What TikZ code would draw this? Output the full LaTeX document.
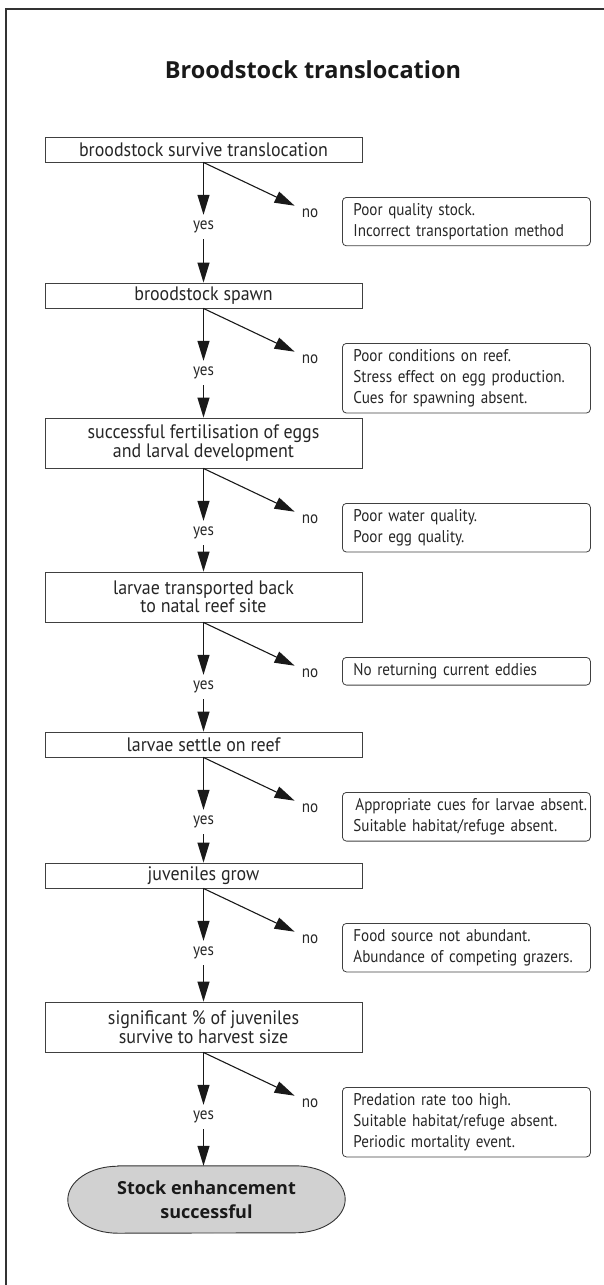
\documentclass[tikz,border=0pt]{standalone}
\usepackage{fontspec}
\setmainfont{PT Sans}
\newfontfamily\headfont{Open Sans}
\newfontfamily\boxfont[FakeStretch=0.92]{PT Sans}
\newfontfamily\notefont[FakeStretch=0.89]{PT Sans}
\usetikzlibrary{arrows.meta, backgrounds}

\begin{document}
\begin{tikzpicture}[x=1pt, y=-1pt,
    frame/.style={draw=black!80, line width=1.7pt},
    title/.style={font=\fontsize{23.5}{28}\headfont\bfseries, text=black!90},
    box/.style={draw=black!75, line width=0.9pt, minimum width=317pt, minimum height=25pt, inner sep=1pt, align=center, font=\fontsize{19.5}{18.5}\boxfont, text=black!85},
    why/.style={draw=black!75, line width=0.8pt, rounded corners=4pt, anchor=north west, text width=226pt, inner xsep=11pt, inner ysep=6pt, align=left, font=\fontsize{17}{21}\notefont, text=black!85},
    yes/.style={inner sep=0pt, minimum height=24pt, font=\fontsize{17}{18}\notefont, text=black!85},
    no/.style={inner sep=7pt, font=\fontsize{17}{18}\notefont, text=black!85},
    done/.style={minimum width=277pt, minimum height=67pt, align=center, font=\fontsize{18}{24}\headfont\bfseries, text=black!90},
    conn/.style={draw=black!90, line width=1.1pt, -{Triangle[length=20pt, width=12pt]}}
]
    \useasboundingbox (0,0) rectangle (604,1285);
    \draw[frame] (604,9) -- (6,9) -- (6,1285);

    \node[title] (ttl) at (313,70) {Broodstock translocation};

    % steps
    \node[box] (s1) at (203.5,149.5) {broodstock survive translocation};
    \node[box] (s2) at (203.5,295.5) {broodstock spawn};
    \node[box, minimum height=50pt] (s3) at (203.5,443) {successful fertilisation of eggs\\and larval development};
    \node[box, minimum height=50pt] (s4) at (203.5,597) {larvae transported back\\to natal reef site};
    \node[box] (s5) at (203.5,744.5) {larvae settle on reef};
    \node[box] (s6) at (203.5,875.5) {juveniles grow};
    \node[box, minimum height=50pt] (s7) at (203.5,1027) {significant \% of juveniles\\survive to harvest size};
    \node[done] (end) at (206.5,1199.5) {Stock enhancement\\successful};
    \begin{pgfonlayer}{background}
        \draw[draw=black!80, line width=0.9pt, fill=black!18]
            ([xshift=50pt]end.north west) -- ([xshift=-50pt]end.north east)
            arc[start angle=90, end angle=-90, x radius=50pt, y radius=33.5pt]
            -- ([xshift=50pt]end.south west)
            arc[start angle=270, end angle=90, x radius=50pt, y radius=33.5pt] -- cycle;
    \end{pgfonlayer}

    % yes / no labels
    \node[yes] (y1) at (203.5,227) {yes};
    \node[yes] (y2) at (203.5,373) {yes};
    \node[yes] (y3) at (203.5,533) {yes};
    \node[yes] (y4) at (203.5,687) {yes};
    \node[yes] (y5) at (203.5,822) {yes};
    \node[yes] (y6) at (203.5,953) {yes};
    \node[yes] (y7) at (203.5,1117) {yes};
    \node[no] (n1) at (310,213) {no};
    \node[no] (n2) at (310,359) {no};
    \node[no] (n3) at (310,519) {no};
    \node[no] (n4) at (310,673) {no};
    \node[no] (n5) at (310,808) {no};
    \node[no] (n6) at (310,939) {no};
    \node[no] (n7) at (310,1103) {no};

    % reasons
    \node[why] (r1) at (342,197) {Poor quality stock.\\Incorrect transportation method};
    \node[why] (r2) at (342,343) {Poor conditions on reef.\\Stress effect on egg production.\\Cues for spawning absent.};
    \node[why] (r3) at (342,503) {Poor water quality.\\Poor egg quality.};
    \node[why] (r4) at (342,657) {No returning current eddies};
    \node[why] (r5) at (342,792) {\mbox{\hspace*{2pt}Appropriate cues for larvae absent.}\\Suitable habitat/refuge absent.};
    \node[why] (r6) at (342,923) {Food source not abundant.\\Abundance of competing grazers.};
    \node[why] (r7) at (342,1087) {Predation rate too high.\\Suitable habitat/refuge absent.\\Periodic mortality event.};

    \draw[conn] (s1) -- (y1);
    \draw[conn] (y1) -- (s2);
    \draw[conn] (s1.south) -- (n1);
    \draw[conn] (s2) -- (y2);
    \draw[conn] (y2) -- (s3);
    \draw[conn] (s2.south) -- (n2);
    \draw[conn] (s3) -- (y3);
    \draw[conn] (y3) -- (s4);
    \draw[conn] (s3.south) -- (n3);
    \draw[conn] (s4) -- (y4);
    \draw[conn] (y4) -- (s5);
    \draw[conn] (s4.south) -- (n4);
    \draw[conn] (s5) -- (y5);
    \draw[conn] (y5) -- (s6);
    \draw[conn] (s5.south) -- (n5);
    \draw[conn] (s6) -- (y6);
    \draw[conn] (y6) -- (s7);
    \draw[conn] (s6.south) -- (n6);
    \draw[conn] (s7) -- (y7);
    \draw[conn] (y7) -- (y7 |- end.north);
    \draw[conn] (s7.south) -- (n7);
\end{tikzpicture}
\end{document}
